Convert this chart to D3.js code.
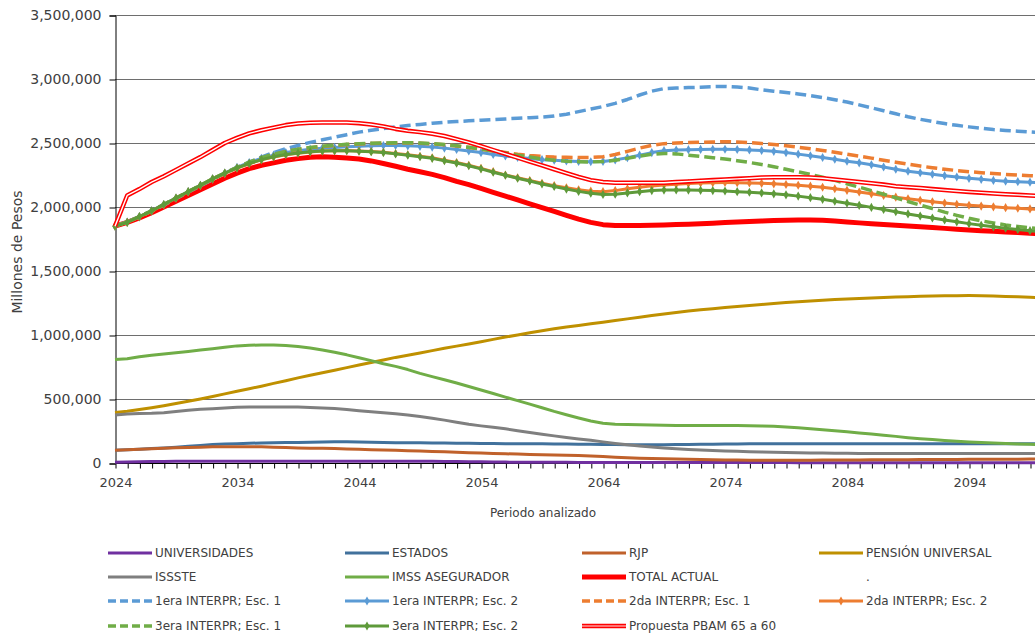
<!DOCTYPE html>
<html>
<head>
<meta charset="utf-8">
<script src="https://cdn.jsdelivr.net/npm/d3@7"></script>
<style>
  body { margin: 0; background: #fff; }
  svg { display: block; font-family: "DejaVu Sans", sans-serif; }
</style>
</head>
<body>
<svg id="chart" width="1035" height="638"></svg>
<script>
// years on the category axis
const years = d3.range(2024, 2101);
const yTicks = [0, 500, 1000, 1500, 2000, 2500, 3000, 3500]; // miles de millones

// values in thousands of "Millones de Pesos", one per year 2024..2100
const universidades = [
  5, 7, 9, 11, 12, 13, 13, 14, 14, 14,
  14, 14, 14, 14, 14, 14, 14, 14, 14, 14,
  14, 14, 13, 13, 13, 13, 13, 12, 11, 10,
  9, 8, 7, 6, 6, 5, 5, 5, 4, 4,
  4, 4, 4, 4, 3, 3, 3, 3, 3, 3,
  3, 3, 3, 3, 3, 3, 2, 2, 2, 2,
  2, 2, 2, 2, 2, 2, 2, 2, 2, 2,
  2, 2, 2, 2, 2, 2, 2];
const estados = [
  100, 104, 108, 113, 118, 124, 130, 137, 144, 148,
  151, 154, 157, 159, 160, 161, 163, 165, 166, 166,
  165, 163, 161, 159, 158, 158, 157, 156, 155, 154,
  153, 152, 151, 150, 150, 150, 149, 148, 147, 146,
  145, 144, 143, 143, 143, 143, 144, 145, 146, 147,
  148, 149, 150, 150, 150, 150, 151, 151, 151, 151,
  151, 151, 151, 151, 151, 151, 151, 151, 151, 151,
  151, 151, 150, 150, 150, 150, 150];
const rjp = [
  100, 104, 108, 112, 116, 119, 122, 124, 126, 127,
  127, 127, 126, 124, 121, 118, 116, 115, 113, 110,
  107, 104, 102, 99, 96, 93, 90, 87, 84, 81,
  78, 75, 72, 70, 67, 64, 62, 60, 58, 55,
  50, 45, 41, 38, 35, 33, 31, 29, 27, 25,
  24, 23, 22, 22, 22, 22, 22, 22, 23, 23,
  24, 24, 25, 25, 26, 26, 27, 27, 28, 28,
  29, 29, 30, 30, 30, 31, 31];
const pensionUniversal = [
  395, 405, 418, 432, 448, 465, 482, 500, 520, 540,
  560, 580, 600, 622, 643, 665, 685, 705, 725, 745,
  765, 785, 805, 825, 842, 860, 878, 896, 913, 930,
  948, 966, 984, 1000, 1018, 1034, 1048, 1062, 1075, 1088,
  1100, 1113, 1126, 1139, 1152, 1164, 1176, 1187, 1197, 1206,
  1214, 1222, 1230, 1238, 1246, 1253, 1260, 1266, 1272, 1277,
  1281, 1285, 1289, 1293, 1296, 1299, 1302, 1304, 1306, 1307,
  1308, 1307, 1304, 1300, 1298, 1295, 1290];
const issste = [
  375, 382, 386, 388, 393, 402, 412, 419, 424, 430,
  435, 437, 438, 438, 438, 437, 434, 430, 425, 418,
  408, 400, 392, 384, 375, 363, 350, 335, 318, 302,
  290, 280, 267, 252, 238, 225, 212, 200, 188, 177,
  165, 153, 142, 133, 125, 118, 112, 106, 101, 97,
  94, 91, 88, 86, 84, 82, 80, 79, 78, 77,
  76, 75, 75, 75, 75, 75, 75, 75, 75, 75,
  75, 75, 75, 75, 75, 75, 75];
const imss = [
  808, 815, 830, 842, 852, 862, 872, 882, 893, 905,
  915, 920, 922, 922, 918, 910, 898, 882, 865, 845,
  822, 800, 775, 755, 730, 700, 675, 650, 625, 598,
  570, 543, 515, 487, 460, 432, 403, 377, 352, 328,
  310, 302, 300, 298, 297, 295, 293, 292, 292, 292,
  292, 292, 291, 290, 287, 282, 275, 268, 260, 252,
  244, 235, 226, 217, 208, 198, 190, 183, 176, 170,
  165, 160, 156, 152, 149, 146, 143];
const totalActual = [
  1850, 1880, 1915, 1955, 2000, 2045, 2090, 2135, 2180, 2225,
  2265, 2300, 2325, 2345, 2365, 2378, 2388, 2392, 2388, 2382,
  2375, 2360, 2340, 2318, 2295, 2275, 2255, 2230, 2200, 2175,
  2145, 2115, 2085, 2055, 2025, 1995, 1965, 1935, 1905, 1880,
  1862, 1855, 1855, 1855, 1857, 1860, 1863, 1866, 1870, 1874,
  1878, 1882, 1886, 1890, 1894, 1897, 1898, 1898, 1897, 1890,
  1883, 1876, 1870, 1864, 1858, 1852, 1846, 1840, 1833, 1827,
  1820, 1815, 1810, 1805, 1800, 1795, 1790];
const interp1Esc1 = [
  1850, 1885, 1925, 1970, 2015, 2065, 2115, 2165, 2215, 2265,
  2310, 2350, 2390, 2425, 2455, 2480, 2505, 2525, 2545, 2565,
  2585, 2600, 2613, 2625, 2636, 2645, 2654, 2662, 2668, 2673,
  2678, 2683, 2688, 2693, 2698, 2703, 2710, 2725, 2745, 2765,
  2785, 2810, 2840, 2875, 2905, 2925, 2930, 2933, 2936, 2940,
  2942, 2938, 2930, 2915, 2905, 2895, 2883, 2870, 2855, 2838,
  2820, 2798, 2775, 2752, 2728, 2705, 2685, 2668, 2652, 2638,
  2626, 2615, 2605, 2598, 2592, 2586, 2580];
const interp1Esc2 = [
  1850, 1882, 1925, 1970, 2020, 2070, 2120, 2170, 2220, 2265,
  2310, 2348, 2380, 2405, 2425, 2440, 2452, 2460, 2465, 2470,
  2475, 2478, 2480, 2480, 2478, 2474, 2468, 2460, 2450, 2438,
  2425, 2410, 2398, 2388, 2378, 2370, 2365, 2360, 2356, 2354,
  2356, 2368, 2385, 2405, 2425, 2440, 2445, 2448, 2450, 2451,
  2451, 2449, 2446, 2441, 2435, 2425, 2413, 2400, 2387, 2373,
  2358, 2345, 2330, 2312, 2295, 2280, 2268, 2256, 2245, 2234,
  2224, 2216, 2208, 2202, 2198, 2194, 2190];
const interp2Esc1 = [
  1850, 1882, 1924, 1968, 2018, 2068, 2118, 2168, 2218, 2263,
  2307, 2347, 2382, 2410, 2432, 2450, 2463, 2473, 2481, 2488,
  2493, 2496, 2498, 2500, 2500, 2498, 2493, 2486, 2477, 2465,
  2452, 2438, 2425, 2412, 2402, 2395, 2390, 2388, 2387, 2387,
  2392, 2410, 2435, 2460, 2482, 2495, 2500, 2503, 2506, 2508,
  2510, 2508, 2503, 2496, 2488, 2478, 2467, 2455, 2442, 2428,
  2412, 2397, 2382, 2365, 2350, 2335, 2320, 2307, 2295, 2285,
  2276, 2268, 2261, 2255, 2250, 2245, 2240];
const interp2Esc2 = [
  1850, 1880, 1923, 1968, 2018, 2068, 2118, 2168, 2218, 2263,
  2303, 2338, 2368, 2391, 2408, 2420, 2430, 2437, 2440, 2442,
  2438, 2434, 2428, 2418, 2408, 2396, 2384, 2366, 2347, 2326,
  2302, 2276, 2250, 2228, 2207, 2186, 2167, 2150, 2135, 2124,
  2120, 2128, 2142, 2155, 2165, 2172, 2178, 2183, 2187, 2190,
  2191, 2190, 2188, 2185, 2181, 2176, 2170, 2163, 2154, 2143,
  2130, 2117, 2103, 2090, 2077, 2064, 2052, 2041, 2031, 2022,
  2014, 2007, 2001, 1995, 1990, 1985, 1980];
const interp3Esc1 = [
  1850, 1883, 1925, 1970, 2020, 2070, 2120, 2170, 2220, 2265,
  2310, 2350, 2385, 2412, 2435, 2452, 2465, 2475, 2483, 2490,
  2495, 2498, 2500, 2502, 2502, 2500, 2495, 2488, 2478, 2466,
  2452, 2438, 2422, 2405, 2390, 2375, 2365, 2358, 2354, 2352,
  2355, 2365, 2380, 2398, 2412, 2418, 2415, 2405, 2395, 2385,
  2375, 2362, 2348, 2332, 2315, 2295, 2275, 2255, 2232, 2208,
  2182, 2155, 2128, 2100, 2072, 2043, 2015, 1988, 1960, 1935,
  1912, 1892, 1875, 1860, 1848, 1838, 1828];
const interp3Esc2 = [
  1850, 1880, 1925, 1970, 2020, 2070, 2120, 2170, 2220, 2265,
  2305, 2340, 2370, 2393, 2410, 2422, 2432, 2438, 2440, 2440,
  2436, 2432, 2425, 2415, 2405, 2393, 2380, 2362, 2343, 2322,
  2298, 2272, 2248, 2225, 2203, 2180, 2160, 2140, 2122, 2108,
  2098, 2100, 2110, 2120, 2128, 2132, 2133, 2132, 2130, 2128,
  2125, 2120, 2115, 2110, 2103, 2095, 2085, 2073, 2060, 2045,
  2030, 2013, 1997, 1980, 1963, 1946, 1930, 1914, 1899, 1884,
  1870, 1857, 1845, 1834, 1824, 1815, 1806];
const propuesta = [
  1850, 2090, 2140, 2195, 2240, 2290, 2340, 2390, 2445, 2500,
  2540, 2575, 2600, 2620, 2640, 2652, 2658, 2660, 2660, 2660,
  2655, 2645, 2630, 2610, 2595, 2585, 2572, 2555, 2530, 2505,
  2475, 2445, 2415, 2385, 2355, 2325, 2295, 2265, 2235, 2210,
  2195, 2190, 2190, 2190, 2190, 2190, 2195, 2200, 2205, 2210,
  2215, 2220, 2225, 2230, 2232, 2232, 2232, 2230, 2225, 2215,
  2205, 2195, 2185, 2175, 2162, 2155, 2148, 2140, 2132, 2125,
  2118, 2112, 2106, 2100, 2095, 2090, 2085];

// series in Excel order (later ones are drawn on top), laid out 4 per legend row
const series = [
  { name: "UNIVERSIDADES", values: universidades, color: "#7030A0", width: 3 },
  { name: "ESTADOS", values: estados, color: "#41719C", width: 3 },
  { name: "RJP", values: rjp, color: "#C0612B", width: 3 },
  { name: "PENSIÓN UNIVERSAL", values: pensionUniversal, color: "#BF9000", width: 3 },
  { name: "ISSSTE", values: issste, color: "#7F7F7F", width: 3 },
  { name: "IMSS ASEGURADOR", values: imss, color: "#70AD47", width: 3 },
  { name: "TOTAL ACTUAL", values: totalActual, color: "#FF0000", width: 5 },
  { name: ".", values: null },
  { name: "1era INTERPR; Esc. 1", values: interp1Esc1, color: "#5B9BD5", width: 3.5, dash: "11,5" },
  { name: "1era INTERPR; Esc. 2", values: interp1Esc2, color: "#5B9BD5", width: 3, marker: true },
  { name: "2da INTERPR; Esc. 1", values: interp2Esc1, color: "#ED7D31", width: 3.5, dash: "11,5" },
  { name: "2da INTERPR; Esc. 2", values: interp2Esc2, color: "#ED7D31", width: 3, marker: true },
  { name: "3era INTERPR; Esc. 1", values: interp3Esc1, color: "#70AD47", width: 3.5, dash: "11,5" },
  { name: "3era INTERPR; Esc. 2", values: interp3Esc2, color: "#5E9A3A", width: 3, marker: true },
  { name: "Propuesta PBAM 65 a 60", values: propuesta, color: "#FF0000", width: 4.5, double: true }
];

const svg = d3.select("#chart");
const plotLeft = 115, plotTop = 15, plotBottom = 463;
const textColor = "#404040";

const x = d3.scaleLinear().domain([2024, 2100]).range([plotLeft, plotLeft + 76 * 12.2]);
const y = d3.scaleLinear().domain([0, 3500]).range([plotBottom, plotTop]);

// horizontal gridlines
svg.append("g")
  .selectAll("line")
  .data(yTicks.filter(d => d > 0))
  .join("line")
  .attr("x1", plotLeft).attr("x2", 1035)
  .attr("y1", d => y(d) + 0.5).attr("y2", d => y(d) + 0.5)
  .attr("stroke", "#6e6e6e")
  .attr("stroke-width", 1);

// y axis
const yAxis = svg.append("g")
  .attr("transform", `translate(${plotLeft + 0.5},0.5)`)
  .call(d3.axisLeft(y).tickValues(yTicks).tickSize(6).tickPadding(8)
    .tickFormat(d => d3.format(",")(d * 1000)));
yAxis.select(".domain").attr("stroke", "#000");
yAxis.selectAll(".tick line").attr("stroke", "#000");
yAxis.selectAll("text").attr("font-size", 14).attr("fill", textColor)
  .attr("font-family", "DejaVu Sans");

// x axis: one tick per year, label every 10
const xAxis = svg.append("g")
  .attr("transform", `translate(0.5,${plotBottom + 0.5})`)
  .call(d3.axisBottom(x).tickValues(years).tickSize(5).tickPadding(9)
    .tickFormat(d => (d - 2024) % 10 === 0 ? d : ""));
xAxis.select(".domain").attr("stroke", "#000").attr("d", `M${plotLeft},0H1035`);
xAxis.selectAll(".tick line").attr("stroke", "#000");
xAxis.selectAll("text").attr("font-size", 13).attr("fill", textColor)
  .attr("font-family", "DejaVu Sans");

// axis titles
svg.append("text")
  .attr("transform", "translate(22,252) rotate(-90)")
  .attr("text-anchor", "middle")
  .attr("font-size", 14)
  .attr("fill", textColor)
  .text("Millones de Pesos");

svg.append("text")
  .attr("x", 543).attr("y", 517)
  .attr("text-anchor", "middle")
  .attr("font-size", 12)
  .attr("fill", textColor)
  .text("Periodo analizado");

const line = d3.line()
  .x((d, i) => x(years[i]))
  .y(d => y(d));

const plot = svg.append("g");
const diamond = d3.symbol().type(d3.symbolDiamond).size(24);

series.filter(s => s.values).forEach(s => {
  plot.append("path")
    .attr("d", line(s.values))
    .attr("fill", "none")
    .attr("stroke", s.color)
    .attr("stroke-width", s.width)
    .attr("stroke-linejoin", "round")
    .attr("stroke-dasharray", s.dash || null);
  if (s.double) {
    plot.append("path")
      .attr("d", line(s.values))
      .attr("fill", "none")
      .attr("stroke", "#fff")
      .attr("stroke-width", 1.4)
      .attr("stroke-linejoin", "round");
  }
  if (s.marker) {
    plot.append("g")
      .selectAll("path")
      .data(s.values)
      .join("path")
      .attr("transform", (d, i) => `translate(${x(years[i])},${y(d)})`)
      .attr("d", diamond)
      .attr("fill", s.color);
  }
});

// legend, 4 columns
const colX = [108, 345, 582, 819];
const rowY = [553, 577, 601, 626];
const legend = svg.append("g");
series.forEach((s, i) => {
  const lx = colX[i % 4], ly = rowY[Math.floor(i / 4)];
  const g = legend.append("g");
  if (s.values) {
    g.append("line")
      .attr("x1", lx).attr("x2", lx + 44)
      .attr("y1", ly).attr("y2", ly)
      .attr("stroke", s.color)
      .attr("stroke-width", s.width)
      .attr("stroke-dasharray", s.dash ? "8,4" : null);
    if (s.double) {
      g.append("line")
        .attr("x1", lx).attr("x2", lx + 44)
        .attr("y1", ly).attr("y2", ly)
        .attr("stroke", "#ff9a9a")
        .attr("stroke-width", 1.4);
    }
    if (s.marker) {
      g.append("path")
        .attr("transform", `translate(${lx + 22},${ly})`)
        .attr("d", diamond)
        .attr("fill", s.color);
    }
  }
  g.append("text")
    .attr("x", lx + 47).attr("y", ly)
    .attr("dy", "0.35em")
    .attr("font-size", 12)
    .attr("fill", textColor)
    .text(s.name);
});
</script>
</body>
</html>
